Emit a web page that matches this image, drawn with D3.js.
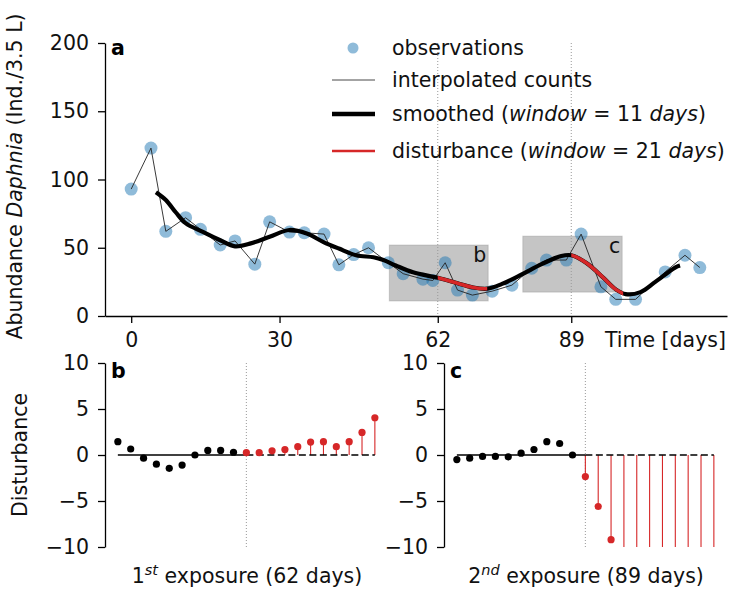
<!DOCTYPE html>
<html><head><meta charset="utf-8">
<script src="https://cdn.jsdelivr.net/npm/d3@7"></script>
<style>
body{margin:0;background:#fff}
text{font-family:"DejaVu Sans",sans-serif;}
</style>
</head><body>
<svg id="chart" width="731" height="590"></svg>
<script>
// ---------- DATA ----------
const obsDays   = [0, 4, 7, 11, 14, 18, 21, 25, 28, 32, 35, 39, 42, 45, 48, 52, 55, 59, 61, 63.5, 66, 69, 73, 77, 81, 84, 88, 91, 95, 98, 102, 108, 112, 115];
const obsValues = [93, 123, 62, 72, 63.5, 52, 55, 38, 69, 61.5, 61, 60, 37.5, 45, 50, 39, 31, 27, 26, 39, 19, 15.3, 18.2, 22.6, 35, 41, 41, 60, 21.4, 12.2, 12.2, 32.3, 44.5, 35.5];

const smoothDays   = [5, 7, 9, 11, 14.5, 18, 21, 24, 28, 32, 35.5, 39, 42, 45.5, 49, 51, 53.5, 57, 62, 66, 69, 72, 75, 79, 83, 87, 89, 92, 95.5, 98, 100, 103, 106, 110, 111];
const smoothValues = [90.7, 85, 76, 68, 61.6, 55.5, 51, 53, 58, 63, 60.4, 54, 49.4, 44.5, 43, 41, 37, 32, 28, 24, 21, 20, 23.5, 30.5, 38, 44, 44.5, 39, 28, 19.5, 16, 17.5, 25, 35.5, 37];

const exposureDays = [62, 89];
const disturbEndDays = [72, 99.5];

const boxStartDays = [52.2, 79.2];
const boxEndDays   = [72.2, 99.3];
const boxLowValues = [11, 17.5];
const boxHighValues = [52, 58.5];
const boxLabels = ["b", "c"];

const xTickValues = [0, 30, 62, 89];
const yTickValues = [0, 50, 100, 150, 200];

const lags = [-10, -9, -8, -7, -6, -5, -4, -3, -2, -1, 0, 1, 2, 3, 4, 5, 6, 7, 8, 9, 10];
const disturbanceB = [1.45, 0.65, -0.35, -1.0, -1.45, -1.1, 0.0, 0.5, 0.5, 0.3, 0.25, 0.25, 0.45, 0.6, 0.9, 1.4, 1.45, 0.9, 1.45, 2.45, 4.05];
const disturbanceC = [-0.5, -0.35, -0.15, -0.15, -0.2, 0.2, 0.6, 1.45, 1.25, 0.0, -2.35, -5.6, -9.2, -12.5, -15, -17, -19, -20.5, -22, -23, -24];
const distTickValues = [-10, -5, 0, 5, 10];

const legendLabels = ["observations", "interpolated counts", "smoothed", "disturbance"];

// ---------- SETUP ----------
const FS = 20.5;
const RED = "#d62728";
const svg = d3.select("#chart");
svg.append("rect").attr("width", 731).attr("height", 590).attr("fill", "#fff");
const defs = svg.append("defs");

function styleAxis(g) {
  g.attr("font-size", FS).attr("font-family", "DejaVu Sans");
  g.selectAll("path.domain").attr("stroke", "#000").attr("stroke-width", 1.3);
  g.selectAll(".tick line").attr("stroke", "#000").attr("stroke-width", 1.3);
  g.selectAll(".tick text").attr("fill", "#111");
}

// ---------- MAIN PANEL (a) ----------
const x = d3.scaleLinear().domain([-5.3, 120.5]).range([105, 727]);
const y = d3.scaleLinear().domain([0, 200]).range([316, 43]);

const main = svg.append("g");

// gray boxes
boxLabels.forEach((lab, i) => {
  main.append("rect")
    .attr("x", x(boxStartDays[i])).attr("y", y(boxHighValues[i]))
    .attr("width", x(boxEndDays[i]) - x(boxStartDays[i]))
    .attr("height", y(boxLowValues[i]) - y(boxHighValues[i]))
    .attr("fill", "#7f7f7f").attr("fill-opacity", 0.45)
    .attr("stroke", "#7f7f7f").attr("stroke-opacity", 0.3);
});

// exposure dotted lines
exposureDays.forEach(d => {
  main.append("line").attr("x1", x(d)).attr("x2", x(d))
    .attr("y1", y(200)).attr("y2", y(0))
    .attr("stroke", "#999").attr("stroke-width", 1).attr("stroke-dasharray", "1,2");
});

// observations
main.selectAll("circle.obs").data(obsDays).join("circle").attr("class", "obs")
  .attr("cx", d => x(d)).attr("cy", (d, i) => y(obsValues[i])).attr("r", 6.5)
  .attr("fill", "#1f77b4").attr("fill-opacity", 0.5);

// interpolated counts
const obsPts = obsDays.map((d, i) => [d, obsValues[i]]);
main.append("path").datum(obsPts)
  .attr("d", d3.line().x(d => x(d[0])).y(d => y(d[1])))
  .attr("fill", "none").attr("stroke", "#222").attr("stroke-width", 0.9);

// smoothed
const smPts = smoothDays.map((d, i) => [d, smoothValues[i]]);
const smLine = d3.line().x(d => x(d[0])).y(d => y(d[1])).curve(d3.curveCatmullRom.alpha(0.5));
main.append("path").datum(smPts).attr("d", smLine)
  .attr("fill", "none").attr("stroke", "#000").attr("stroke-width", 4.2)
  .attr("stroke-linecap", "butt").attr("stroke-linejoin", "round");

// disturbance segments (red)
exposureDays.forEach((d, i) => {
  const id = "clipRed" + i;
  defs.append("clipPath").attr("id", id).append("rect")
    .attr("x", x(d)).attr("y", 0).attr("width", x(disturbEndDays[i]) - x(d)).attr("height", 590);
  main.append("path").datum(smPts).attr("d", smLine)
    .attr("clip-path", `url(#${id})`)
    .attr("fill", "none").attr("stroke", RED).attr("stroke-width", 3.6);
});

// box labels
boxLabels.forEach((lab, i) => {
  main.append("text").attr("x", x(boxEndDays[i]) - 2).attr("y", y(boxHighValues[i]) + 17)
    .attr("text-anchor", "end").attr("font-size", FS).attr("fill", "#111").text(lab);
});

// axes
const gx = main.append("g").attr("transform", `translate(0,${y(0)})`)
  .call(d3.axisBottom(x).tickValues(xTickValues).tickSize(7).tickSizeOuter(0).tickPadding(9).tickFormat(d3.format("d")));
styleAxis(gx);
const gy = main.append("g").attr("transform", `translate(${x.range()[0]},0)`)
  .call(d3.axisLeft(y).tickValues(yTickValues).tickSize(7).tickSizeOuter(0).tickPadding(9));
styleAxis(gy);

main.append("text").attr("x", 726).attr("y", 347).attr("text-anchor", "end")
  .attr("font-size", FS).attr("fill", "#111").text("Time [days]");

const yl = main.append("text").attr("transform", `translate(22,${(y(0) + y(200)) / 2 - 3}) rotate(-90)`)
  .attr("text-anchor", "middle").attr("font-size", FS).attr("fill", "#111");
yl.append("tspan").text("Abundance ");
yl.append("tspan").attr("font-style", "italic").text("Daphnia");
yl.append("tspan").text(" (Ind./3.5 L)");

main.append("text").attr("x", 111).attr("y", 55).attr("font-size", FS).attr("font-weight", "bold").attr("fill", "#000").text("a");

// legend
const lg = main.append("g");
const rows = [48, 80, 114, 151];
lg.append("circle").attr("cx", 353).attr("cy", rows[0]).attr("r", 5.5).attr("fill", "#1f77b4").attr("fill-opacity", 0.5);
lg.append("line").attr("x1", 332).attr("x2", 375).attr("y1", rows[1]).attr("y2", rows[1]).attr("stroke", "#333").attr("stroke-width", 0.9);
lg.append("line").attr("x1", 332).attr("x2", 375).attr("y1", rows[2]).attr("y2", rows[2]).attr("stroke", "#000").attr("stroke-width", 4.5);
lg.append("line").attr("x1", 332).attr("x2", 375).attr("y1", rows[3]).attr("y2", rows[3]).attr("stroke", RED).attr("stroke-width", 2.5);
function legText(i) {
  return lg.append("text").attr("x", 392).attr("y", rows[i]).attr("dy", "0.33em")
    .attr("font-size", FS).attr("fill", "#111");
}
legText(0).text(legendLabels[0]);
legText(1).text(legendLabels[1]);
[[2, "11"], [3, "21"]].forEach(([i, w]) => {
  const t = legText(i);
  t.append("tspan").text(legendLabels[i] + " (");
  t.append("tspan").attr("font-style", "italic").text("window");
  t.append("tspan").text(" = " + w + " ");
  t.append("tspan").attr("font-style", "italic").text("days");
  t.append("tspan").text(")");
});

// ---------- LOWER PANELS (b, c) ----------
const yd = d3.scaleLinear().domain([-10, 10]).range([547, 363]);
const panels = [
  {left: 105, right: 389, values: disturbanceB, label: "b", num: "1", ord: "st", day: 62},
  {left: 444, right: 728, values: disturbanceC, label: "c", num: "2", ord: "nd", day: 89}
];
panels.forEach((p, pi) => {
  const xl = d3.scaleLinear().domain([-11, 11.1]).range([p.left, p.right]);
  const g = svg.append("g");
  const cid = "clipP" + pi;
  defs.append("clipPath").attr("id", cid).append("rect")
    .attr("x", p.left).attr("y", 355).attr("width", p.right - p.left).attr("height", yd(-10) - 355);
  const body = g.append("g").attr("clip-path", `url(#${cid})`);

  body.append("line").attr("x1", xl(0)).attr("x2", xl(0)).attr("y1", yd(10)).attr("y2", yd(-10))
    .attr("stroke", "#999").attr("stroke-width", 1).attr("stroke-dasharray", "1,2");
  body.selectAll("line.stem").data(lags.filter(l => l >= 0)).join("line").attr("class", "stem")
    .attr("x1", l => xl(l)).attr("x2", l => xl(l))
    .attr("y1", yd(0)).attr("y2", l => yd(p.values[lags.indexOf(l)]))
    .attr("stroke", RED).attr("stroke-width", 1.1);
  body.append("line").attr("x1", xl(-10)).attr("x2", xl(0)).attr("y1", yd(0)).attr("y2", yd(0))
    .attr("stroke", "#000").attr("stroke-width", 1.5);
  body.append("line").attr("x1", xl(0)).attr("x2", xl(10)).attr("y1", yd(0)).attr("y2", yd(0))
    .attr("stroke", "#000").attr("stroke-width", 1.5).attr("stroke-dasharray", "7,3.5");
  body.selectAll("circle.pt").data(lags).join("circle").attr("class", "pt")
    .attr("cx", l => xl(l)).attr("cy", (l, i) => yd(p.values[i])).attr("r", 3.6)
    .attr("fill", l => l >= 0 ? RED : "#000");

  const ga = g.append("g").attr("transform", `translate(${p.left},0)`)
    .call(d3.axisLeft(yd).tickValues(distTickValues).tickSize(7).tickSizeOuter(0).tickPadding(9));
  styleAxis(ga);

  g.append("text").attr("x", p.left + 6).attr("y", 378).attr("font-size", FS).attr("font-weight", "bold")
    .attr("fill", "#000").text(p.label);

  const lt = g.append("text").attr("x", (p.left + p.right) / 2).attr("y", 583)
    .attr("text-anchor", "middle").attr("font-size", FS).attr("fill", "#111");
  lt.append("tspan").text(p.num);
  lt.append("tspan").attr("font-size", 14.5).attr("font-style", "italic").attr("dy", -8).text(p.ord);
  lt.append("tspan").attr("dy", 8).text(" exposure (" + p.day + " days)");
});

svg.append("text").attr("transform", `translate(27,${(yd(10) + yd(-10)) / 2}) rotate(-90)`)
  .attr("text-anchor", "middle").attr("font-size", FS).attr("fill", "#111").text("Disturbance");
</script>
</body></html>
